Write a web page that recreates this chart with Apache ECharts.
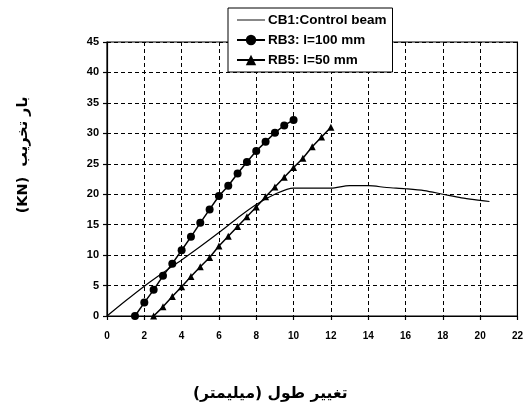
<!DOCTYPE html>
<html>
	<head>
		<meta charset="utf-8" />
		<title>نمودار</title>
		<style type="text/css">
			body,
			html,
			#chart {
				width: 100%;
				height: 100%;
				overflow: hidden;
				margin: 0;
				background: #fff;
			}
		</style>
	</head>
	<body>
		<div id="chart"></div>
		<script src="https://cdn.jsdelivr.net/npm/echarts@6/dist/echarts.min.js"></script>
		<script>
			// داده ها (خوانده شده از نمودار)
			var seriesNames = ['CB1:Control beam', 'RB3: l=100 mm', 'RB5: l=50 mm'];
			var xTicks = [0, 2, 4, 6, 8, 10, 12, 14, 16, 18, 20, 22];
			var yTicks = [0, 5, 10, 15, 20, 25, 30, 35, 40, 45];

			var cb1X = [0, 1, 2, 3, 4, 5, 6, 7, 8, 9, 10, 12, 13, 14, 15, 16, 17, 18, 19, 20, 20.5];
			var cb1Y = [0, 2.5, 4.9, 7.1, 9.2, 11.4, 13.7, 16.1, 18.3, 20.0, 21.0, 21.0, 21.4, 21.4, 21.1, 20.9, 20.6, 20.0, 19.4, 19.0, 18.8];

			var rb3X = [1.5, 2, 2.5, 3, 3.5, 4, 4.5, 5, 5.5, 6, 6.5, 7, 7.5, 8, 8.5, 9, 9.5, 10];
			var rb3Y = [0, 2.2, 4.3, 6.6, 8.6, 10.8, 13.0, 15.3, 17.5, 19.7, 21.4, 23.4, 25.3, 27.1, 28.6, 30.1, 31.3, 32.2];

			var rb5X = [2.5, 3, 3.5, 4, 4.5, 5, 5.5, 6, 6.5, 7, 7.5, 8, 8.5, 9, 9.5, 10, 10.5, 11, 11.5, 12];
			var rb5Y = [0, 1.5, 3.2, 4.8, 6.5, 8.1, 9.6, 11.5, 13.1, 14.7, 16.3, 17.9, 19.6, 21.2, 22.8, 24.4, 25.9, 27.8, 29.4, 31.0];

			function pairs(xs, ys) {
				return xs.map(function (x, i) {
					return [x, ys[i]];
				});
			}
			// متن راست به چپ
			function rtl(s) {
				return '\u202B' + s + '\u202C';
			}

			var myChart = echarts.init(document.getElementById('chart'));
			var gridLine = { show: true, lineStyle: { color: '#000', type: [4, 3], width: 1 } };
			var option = {
				backgroundColor: '#fff',
				animation: false,
				textStyle: { fontFamily: 'Liberation Sans' },
				grid: { left: 107, right: 6, top: 42, bottom: 95, show: true, borderColor: '#000', borderWidth: 1.2, backgroundColor: 'transparent' },
				legend: {
					data: [
						{ name: seriesNames[0], icon: 'path://M0,0 L30,0 L30,1 L0,1 Z' },
						{ name: seriesNames[1] },
						{ name: seriesNames[2] }
					],
					orient: 'vertical',
					left: 228,
					top: 8,
					padding: [5, 6, 5, 8],
					itemGap: 6,
					itemWidth: 28,
					itemHeight: 13,
					backgroundColor: '#fff',
					borderColor: '#000',
					borderWidth: 1,
					textStyle: { color: '#000', fontSize: 13.5, fontWeight: 'bold', fontFamily: 'Liberation Sans', padding: [0, 0, 0, -2] }
				},
				xAxis: {
					type: 'value',
					min: xTicks[0],
					max: xTicks[xTicks.length - 1],
					interval: 2,
					axisLine: { show: true, onZero: false, lineStyle: { color: '#000', width: 1.2 } },
					axisTick: { show: true, length: 4, lineStyle: { color: '#000', width: 1.2 } },
					axisLabel: { color: '#000', fontSize: 10, fontWeight: 'bold', margin: 15 },
					splitLine: gridLine,
					name: rtl('تغییر طول (میلیمتر)'),
					nameLocation: 'middle',
					nameGap: 70,
					nameTextStyle: { color: '#000', fontSize: 15.5, fontWeight: 'bold', fontFamily: 'DejaVu Sans', padding: [0, 84, 0, 0] }
				},
				yAxis: {
					type: 'value',
					min: yTicks[0],
					max: yTicks[yTicks.length - 1],
					interval: 5,
					axisLine: { show: true, onZero: false, lineStyle: { color: '#000', width: 1.2 } },
					axisTick: { show: true, length: 4, lineStyle: { color: '#000', width: 1.2 } },
					axisLabel: { color: '#000', fontSize: 11, fontWeight: 'bold', margin: 8 },
					splitLine: gridLine,
					name: rtl('بار تخریب  (KN)'),
					nameLocation: 'middle',
					nameRotate: 90,
					nameGap: 76,
					nameTextStyle: { color: '#000', fontSize: 14.5, fontWeight: 'bold', fontFamily: 'DejaVu Sans', padding: [0, 0, 0, 48] }
				},
				series: [
					{
						name: seriesNames[0],
						type: 'line',
						data: pairs(cb1X, cb1Y),
						symbol: 'none',
						smooth: 0.3,
						lineStyle: { color: '#000', width: 1.2 },
						itemStyle: { color: '#000' }
					},
					{
						name: seriesNames[1],
						type: 'line',
						data: pairs(rb3X, rb3Y),
						symbol: 'circle',
						symbolSize: 8,
						lineStyle: { color: '#000', width: 1.5 },
						itemStyle: { color: '#000' }
					},
					{
						name: seriesNames[2],
						type: 'line',
						data: pairs(rb5X, rb5Y),
						symbol: 'triangle',
						symbolSize: 7,
						lineStyle: { color: '#000', width: 1.5 },
						itemStyle: { color: '#000' }
					}
				]
			};
			myChart.setOption(option);
		</script>
	</body>
</html>
